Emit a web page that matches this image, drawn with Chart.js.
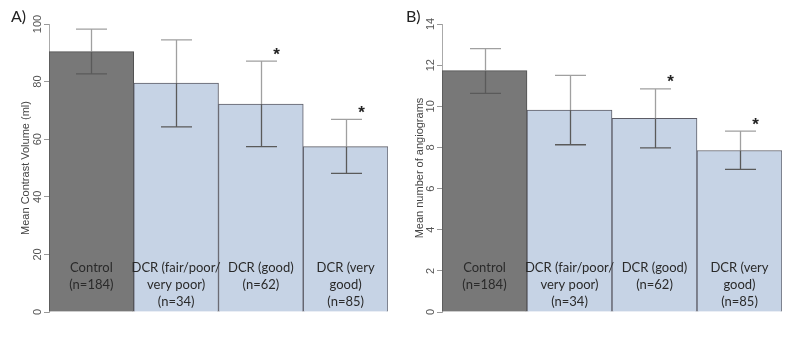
<!DOCTYPE html>
<html>
<head>
<meta charset="utf-8">
<script src="https://cdn.jsdelivr.net/npm/chart.js@4.4.1/dist/chart.umd.min.js"></script>
<style>
  body { margin: 0; background: #fff; }
  #wrap { position: relative; width: 800px; height: 346px; }
  .panel { position: absolute; top: 0; width: 400px; height: 346px; }
</style>
</head>
<body>
<div id="wrap">
  <div class="panel" style="left:0"><canvas id="chartA"></canvas></div>
  <div class="panel" style="left:400px"><canvas id="chartB"></canvas></div>
</div>
<script>
// categories (label lines inside each bar)
var groups = ['Control', 'DCR (fair/poor/very poor)', 'DCR (good)', 'DCR (very good)'];
var groupLines = [
    ['Control', '(n=184)'],
    ['DCR (fair/poor/', 'very poor)', '(n=34)'],
    ['DCR (good)', '(n=62)'],
    ['DCR (very', 'good)', '(n=85)']
];
var significant = [false, false, true, true];

// A) contrast volume
var contrastMean = [90.4, 79.5, 72.2, 57.4];
var contrastLow  = [82.7, 64.3, 57.4, 48.1];
var contrastHigh = [98.2, 94.5, 87.1, 66.9];
var contrastTicks = [0, 20, 40, 60, 80, 100];

// B) number of angiograms
var angioMean = [11.73, 9.82, 9.41, 7.85];
var angioLow  = [10.63, 8.13, 7.98, 6.93];
var angioHigh = [12.8, 11.5, 10.85, 8.79];
var angioTicks = [0, 2, 4, 6, 8, 10, 12, 14];

var barColors = ['#787878', '#c6d3e5', '#c6d3e5', '#c6d3e5'];
var barBorders = ['#505050', '#5c5c66', '#5c5c66', '#5c5c66'];

//畫誤差線、標籤、刻度
var decorPlugin = {
    id: 'decor',
    afterDatasetsDraw: function(chart) {
        var opt = chart.options.plugins.decor;
        var ctx = chart.ctx;
        var y = chart.scales.y;
        var meta = chart.getDatasetMeta(0);
        var area = chart.chartArea;
        ctx.save();

        // error bars
        meta.data.forEach(function(bar, i) {
            var x = Math.round(bar.x) + 0.5;
            var yTop = y.getPixelForValue(opt.high[i]);
            var yLow = y.getPixelForValue(opt.low[i]);
            var yMid = y.getPixelForValue(opt.mean[i]);
            ctx.lineWidth = 1.3;
            ctx.strokeStyle = '#a0a0a0';
            ctx.beginPath();
            ctx.moveTo(x, yTop); ctx.lineTo(x, yMid);
            ctx.moveTo(x - 15.5, yTop); ctx.lineTo(x + 15.5, yTop);
            ctx.stroke();
            ctx.strokeStyle = '#5a5a5a';
            ctx.beginPath();
            ctx.moveTo(x, yMid); ctx.lineTo(x, yLow);
            ctx.moveTo(x - 15.5, yLow); ctx.lineTo(x + 15.5, yLow);
            ctx.stroke();

            if (significant[i]) {
                ctx.fillStyle = '#222';
                ctx.font = 'bold 17px "Liberation Sans", Arial, sans-serif';
                ctx.textAlign = 'center';
                ctx.textBaseline = 'middle';
                ctx.fillText('*', x + 15, yTop - 6);
            }

            // label inside bar
            ctx.fillStyle = '#2a2a2a';
            ctx.font = '13px Lato, "Open Sans", sans-serif';
            ctx.textAlign = 'center';
            ctx.textBaseline = 'middle';
            groupLines[i].forEach(function(line, k) {
                ctx.fillText(line, bar.x, 268 + k * 16.8);
            });
        });

        // y tick labels (rotated)
        ctx.fillStyle = '#555';
        ctx.font = '11px "Liberation Sans", Arial, sans-serif';
        opt.ticks.forEach(function(v) {
            var py = y.getPixelForValue(v);
            ctx.save();
            ctx.translate(area.left - 6, py);
            ctx.rotate(-Math.PI / 2);
            ctx.textAlign = 'center';
            ctx.textBaseline = 'bottom';
            ctx.fillText(String(v), 0, 0);
            ctx.restore();
        });

        // axis title
        ctx.save();
        ctx.translate(opt.titleX, (area.top + area.bottom) / 2);
        ctx.rotate(-Math.PI / 2);
        ctx.textAlign = 'center';
        ctx.textBaseline = 'middle';
        ctx.fillStyle = '#444';
        ctx.font = '11px "Liberation Sans", Arial, sans-serif';
        ctx.fillText(opt.title, 0, 0);
        ctx.restore();

        // panel letter
        ctx.fillStyle = '#222';
        ctx.font = '16px Lato, "Open Sans", sans-serif';
        ctx.textAlign = 'left';
        ctx.textBaseline = 'middle';
        ctx.fillText(opt.letter, opt.letterX, 17);

        ctx.restore();
    }
};

function makeChart(id, mean, low, high, ticks, maxVal, axisWidth, rightPad, title, titleX, letter, letterX) {
    var ctx = document.getElementById(id).getContext('2d');
    return new Chart(ctx, {
        type: 'bar',
        data: {
            labels: groups,
            datasets: [{
                data: mean,
                backgroundColor: barColors,
                borderColor: barBorders,
                borderWidth: 1,
                categoryPercentage: 1,
                barPercentage: 1
            }]
        },
        options: {
            responsive: false,
            animation: false,
            devicePixelRatio: 1,
            layout: { padding: { top: 24, right: rightPad, bottom: 34, left: 0 } },
            plugins: {
                legend: { display: false },
                tooltip: { enabled: false },
                decor: {
                    mean: mean, low: low, high: high, ticks: ticks,
                    title: title, titleX: titleX, letter: letter, letterX: letterX
                }
            },
            scales: {
                x: { display: false },
                y: {
                    min: 0,
                    max: maxVal,
                    afterFit: function(s) { s.width = axisWidth; },
                    afterBuildTicks: function(s) {
                        s.ticks = ticks.map(function(v) { return { value: v }; });
                    },
                    ticks: { display: false },
                    grid: {
                        drawOnChartArea: false,
                        drawTicks: true,
                        tickLength: 5,
                        color: '#999'
                    },
                    border: { display: true, color: '#aaa', width: 1 }
                }
            }
        },
        plugins: [decorPlugin]
    });
}

document.getElementById('chartA').width = 400;
document.getElementById('chartA').height = 346;
document.getElementById('chartB').width = 400;
document.getElementById('chartB').height = 346;

makeChart('chartA', contrastMean, contrastLow, contrastHigh, contrastTicks, 100, 49, 12,
    'Mean Contrast Volume (ml)', 26, 'A)', 11);
makeChart('chartB', angioMean, angioLow, angioHigh, angioTicks, 14, 42, 18,
    'Mean number of angiograms', 20, 'B)', 6);
</script>
</body>
</html>
